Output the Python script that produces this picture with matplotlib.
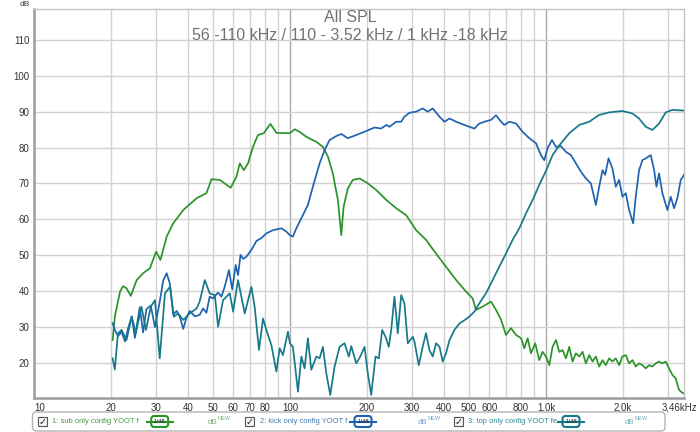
import matplotlib
matplotlib.use("Agg")
import matplotlib.pyplot as plt
import matplotlib.transforms as mtransforms
from matplotlib.patches import FancyBboxPatch, Rectangle
from matplotlib.lines import Line2D
from matplotlib.ticker import NullLocator

plt.rcParams['font.family'] = ['Liberation Sans', 'DejaVu Sans']

# ---------------- data ----------------
sub_f = [20.3, 20.7, 21.7, 22.3, 23.0, 23.9, 25.2, 26.7, 28.4, 30.0, 31.2, 33.0, 35.0, 38.3, 43.2, 47.2,
         49.4, 53.2, 58.7, 61.8, 63.7, 66.0, 68.6, 71.7, 75.0, 79.0, 83.9, 88.5, 100, 104.3, 109, 115.9,
         121.2, 126.8, 134.5, 140.7, 147.1, 153.9, 158.7, 162, 168.3, 176, 187, 200, 217, 238, 260, 284,
         293, 311, 340, 372, 407, 446, 487, 517, 533, 566, 610, 638, 668, 698, 730, 764, 800, 823, 848,
         874, 908, 941, 970, 1000, 1030, 1061, 1094, 1127, 1161, 1197, 1233, 1270, 1309, 1349, 1389,
         1432, 1475, 1520, 1566, 1614, 1662, 1713, 1765, 1818, 1874, 1931, 1989, 2050, 2112, 2176, 2242,
         2310, 2380, 2453, 2527, 2604, 2683, 2765, 2849, 2936, 3024, 3116, 3211, 3309, 3409, 3460]
sub_db = [26.4, 32.9, 39.9, 41.4, 40.8, 38.7, 43.1, 45.0, 46.4, 51.0, 48.7, 55.2, 58.9, 62.6, 65.9, 67.3,
          71.2, 71.0, 68.8, 71.9, 75.6, 73.7, 75.6, 80.2, 83.5, 84.0, 86.6, 84.1, 84.0, 85.1, 84.4, 83.0,
          82.3, 81.6, 80.2, 77.5, 72.8, 65.4, 55.6, 63.5, 68.6, 71.0, 71.4, 70.2, 68.2, 65.4, 63.1, 61.2,
          59.8, 57.0, 54.3, 50.5, 46.8, 43.1, 39.9, 38.0, 34.8, 35.7, 37.1, 34.8, 32.0, 27.8, 29.7, 27.8,
          26.9, 24.1, 26.9, 22.7, 25.5, 20.8, 23.1, 21.8, 19.4, 24.5, 26.4, 23.1, 23.6, 21.3, 24.5, 20.4,
          22.7, 21.8, 23.1, 19.9, 22.2, 20.4, 21.8, 19.0, 20.8, 19.4, 21.3, 20.4, 21.3, 19.4, 21.8, 22.2,
          19.9, 20.8, 19.0, 19.9, 19.4, 18.5, 19.4, 19.0, 19.9, 20.4, 19.9, 20.4, 18.5, 16.7, 15.7, 12.5,
          11.7, 11.5]

kick_f = [20.3, 20.7, 21.3, 22.0, 22.7, 23.3, 24.1, 24.8, 25.9, 26.7, 27.5, 28.6, 29.7, 31.0, 32.0, 33.0,
          34.0, 35.0, 36.1, 37.1, 38.3, 39.4, 40.6, 42.5, 44.4, 45.8, 47.2, 48.6, 50, 52.4, 54.0, 55.6,
          57.8, 59.5, 61.4, 62.7, 64.1, 65.7, 67.6, 70.7, 74.0, 77.4, 80.9, 85.8, 92.6, 96.8, 100, 102.7,
          105.9, 112.4, 117.5, 122.9, 130.6, 136.6, 142.8, 151.7, 158.7, 168.3, 181.5, 200, 214, 227, 238,
          245, 260, 272, 280, 293, 311, 330, 345, 361, 384, 401, 420, 446, 480, 525, 549, 575, 610, 638,
          668, 688, 719, 764, 810, 861, 914, 956, 985, 1014, 1055, 1094, 1144, 1197, 1252, 1309, 1369,
          1432, 1498, 1566, 1614, 1662, 1703, 1755, 1818, 1874, 1931, 1989, 2050, 2112, 2190, 2242, 2310,
          2380, 2453, 2567, 2645, 2700, 2765, 2849, 2980, 3072, 3165, 3260, 3361, 3460]
kick_db = [31.1, 29.2, 27.5, 28.7, 26.0, 29.5, 33.0, 27.0, 35.5, 28.5, 35.0, 36.0, 30.0, 37.0, 43.0, 45.0,
           42.0, 33.5, 34.5, 33.0, 29.5, 32.5, 34.5, 33.0, 33.4, 35.2, 34.0, 38.5, 38.0, 39.6, 38.5, 41.2,
           45.9, 40.5, 47.3, 44.5, 50.1, 49.0, 49.6, 51.5, 54.0, 54.8, 56.1, 57.0, 57.5, 56.6, 55.6, 55.2,
           57.5, 61.2, 64.0, 69.1, 75.6, 79.3, 82.1, 83.2, 83.8, 82.6, 83.5, 84.7, 85.6, 85.3, 86.3,
           85.8, 87.2, 87.2, 88.6, 89.7, 90.0, 90.9, 90.0, 90.9, 88.6, 87.2, 88.1, 87.2, 86.3, 85.3, 86.7,
           87.2, 87.7, 89.0, 87.2, 86.3, 87.2, 86.7, 84.4, 82.6, 81.2, 77.9, 76.5, 79.8, 82.1, 80.2, 80.4,
           78.8, 77.9, 75.6, 73.3, 71.4, 70.0, 64.0, 69.1, 73.7, 72.4, 77.0, 74.2, 69.1, 71.0, 66.3, 67.3,
           62.6, 58.9, 66.3, 73.7, 76.5, 77.0, 77.9, 73.7, 69.1, 72.8, 67.3, 62.6, 66.3, 63.1, 65.9, 71.0,
           72.4]

top_f = [20.3, 20.7, 21.3, 22.0, 23.0, 24.1, 25.0, 26.3, 27.4, 28.6, 29.7, 31.0, 32.5, 34.0, 35.2, 36.6,
         38.3, 40.6, 43.2, 44.4, 46.5, 48.6, 50.9, 52.4, 54.8, 58.2, 60, 62.7, 64.6, 66.6, 70.7, 72.8,
         75.7, 78.5, 80.9, 84.6, 88.5, 91.2, 93.9, 98.2, 100, 102.7, 107.5, 110.8, 114.1, 117.5, 121.2,
         126.8, 130.6, 134.5, 138.7, 143.7, 149.4, 156.3, 163.4, 169.9, 173.6, 181.5, 188.2, 195.6, 201.5,
         207.7, 215.9, 222.4, 229.3, 236.2, 243.3, 248.6, 256, 263.7, 272, 280, 288.5, 301.8, 306.4, 318.5,
         330, 340, 350.6, 361, 372, 384, 395, 407, 420, 439, 459, 480, 502, 525, 549, 583, 619, 657, 698,
         741, 787, 836, 887, 941, 1000, 1061, 1144, 1233, 1349, 1475, 1614, 1765, 1989, 2176, 2310, 2453,
         2604, 2765, 2936, 3116, 3460]
top_db = [21.3, 18.2, 28.3, 29.2, 26.4, 32.9, 28.3, 35.7, 29.2, 35.7, 37.5, 21.3, 39.4, 41.2, 32.9, 33.8,
          32.0, 33.8, 35.2, 37.1, 43.1, 39.4, 38.9, 30.1, 37.5, 39.4, 34.3, 43.1, 38.5, 33.8, 41.2, 35.7,
          23.6, 32.4, 29.2, 25.0, 17.6, 24.1, 22.2, 28.7, 25.5, 24.5, 12.0, 21.8, 18.5, 26.9, 18.1,
          21.8, 21.3, 24.5, 17.1, 11.1, 19.0, 24.5, 25.5, 21.8, 24.7, 19.9, 21.8, 24.5, 17.1,
          11.1, 21.8, 21.3, 29.2, 27.3, 24.5, 29.2, 38.5, 28.3, 38.9, 36.6, 25.5, 27.3, 26.0, 19.4,
          24.5, 28.3, 23.6, 21.8, 25.5, 24.5, 20.4, 22.7, 26.4, 29.2, 31.0, 31.9, 32.9, 34.3, 36.6, 39.4,
          43.1, 46.8, 50.5, 54.3, 57.5, 61.7, 65.4, 69.6, 73.5, 77.9, 81.2, 84.0, 86.3, 87.2, 89.1, 89.8,
          90.2, 89.5, 88.1, 85.8, 84.9, 86.7, 89.8, 90.5, 90.3]

x_tick_vals = [10, 20, 30, 40, 50, 60, 70, 80, 100, 200, 300, 400, 500, 600, 800, 1000, 2000, 3460]
x_tick_text = ["10", "20", "30", "40", "50", "60", "70", "80", "100", "200", "300", "400", "500",
               "600", "800", "1,0k", "2,0k", "3,46kHz"]
x_grid_vals = [20, 30, 40, 50, 60, 70, 80, 90, 100, 200, 300, 400, 500, 600, 700, 800, 900, 1000,
               2000, 3000]
y_tick_vals = [20, 30, 40, 50, 60, 70, 80, 90, 100, 110]

title_1 = "All SPL"
title_2 = "56 -110 kHz / 110 - 3.52 kHz / 1 kHz -18 kHz"
legend_names = ["1: sub only config YOOT f", "2: kick only config YOOT f", "3: top only config YOOT fe"]

c_sub = "#2a942a"
c_kick = "#1f63b0"
c_top = "#16798a"

# ---------------- figure ----------------
W, H = 700, 432
fig = plt.figure(figsize=(W / 100, H / 100), dpi=100)
ax = fig.add_axes([33.9 / W, 34 / H, (684 - 33.9) / W, (423 - 34) / H])
ax.set_xscale('log')
ax.set_xlim(10, 3460)
ax.set_ylim(10.25, 118.6)
ax.xaxis.set_minor_locator(NullLocator())

for g in x_grid_vals:
    col = '#a9a9a9' if g in (100, 1000) else '#d2d2d2'
    ax.axvline(g, color=col, lw=1.0, zorder=1)
for g in y_tick_vals:
    ax.axhline(g, color='#d2d2d2', lw=1.0, zorder=1)

ax.plot(sub_f, sub_db, color=c_sub, lw=1.25, zorder=3)
ax.plot(kick_f, kick_db, color=c_kick, lw=1.25, zorder=3)
ax.plot(top_f, top_db, color=c_top, lw=1.25, zorder=4)

ax.set_xticks(x_tick_vals)
ax.set_xticklabels(x_tick_text)
ax.set_yticks(y_tick_vals)
ax.set_yticklabels([str(v) for v in y_tick_vals])
ax.tick_params(axis='both', length=0, labelsize=7, colors='#333333')
ax.tick_params(axis='x', pad=3.5)
ax.tick_params(axis='y', pad=3)
xl = ax.get_xticklabels()
xl[0].set_ha('left')
xl[-1].set_transform(xl[-1].get_transform() + mtransforms.ScaledTranslation(-5 / 100, 0, fig.dpi_scale_trans))

for s in ('left', 'bottom'):
    ax.spines[s].set_color('#9c9c9c')
    ax.spines[s].set_linewidth(1.8)
for s in ('top', 'right'):
    ax.spines[s].set_color('#c4c4c4')
    ax.spines[s].set_linewidth(1.0)

# titles
fig.text(0.5, 1 - 18 / H, title_1, ha='center', va='center', fontsize=11.5, color='#727272')
fig.text(0.5, 1 - 35 / H, title_2, ha='center', va='center', fontsize=11.5, color='#727272')
fig.text(24.5 / W, 1 - 4.5 / H, "dB", ha='center', va='center', fontsize=6, color='#333333')

# ---------------- legend bar (pixel coords, top-left origin) ----------------
tp = mtransforms.Affine2D().scale(1 / W, -1 / H).translate(0, 1) + fig.transFigure

fig.patches.append(FancyBboxPatch((32.5, 412), 632.5, 19, boxstyle="round,pad=0,rounding_size=4",
                                  transform=tp, facecolor='white', edgecolor='#b4b4b4', lw=1.0))

items = [
    dict(cb=37.5, tx=52, badge=159.7, db=208, col=c_sub, tcol='#3f9a3f', dcol='#6fb86f'),
    dict(cb=245, tx=259.5, badge=363, db=418, col=c_kick, tcol='#4679b2', dcol='#7fa3cf'),
    dict(cb=454, tx=468, badge=571, db=625, col=c_top, tcol='#2b8794', dcol='#6fb0bb'),
]
yc = 421.5
for it, name in zip(items, legend_names):
    fig.patches.append(Rectangle((it['cb'], yc - 4.5), 9, 9, transform=tp, facecolor='#f6f6f6',
                                 edgecolor='#555555', lw=0.8))
    fig.text(*tp.transform((it['cb'] + 4.7, yc + 0.3)), "\u2713", transform=None, ha='center',
             va='center', fontsize=7, fontweight='bold', color='#222222', family=['DejaVu Sans'])
    fig.text(*tp.transform((it['tx'], yc)), name, transform=None, ha='left', va='center',
             fontsize=5.4, color=it['tcol'])
    bx = it['badge']
    fig.lines.append(Line2D([bx - 13, bx + 13], [yc, yc], transform=tp, color=it['col'], lw=1.5))
    fig.patches.append(FancyBboxPatch((bx - 8.5, yc - 5.5), 17, 11, boxstyle="round,pad=0,rounding_size=3",
                                      transform=tp, facecolor='white', edgecolor=it['col'], lw=1.5))
    fig.text(*tp.transform((bx, yc)), "1/48", transform=None, ha='center', va='center',
             fontsize=4.3, color='#222222')
    fig.text(*tp.transform((it['db'], yc + 0.5)), "dB", transform=None, ha='left', va='center',
             fontsize=5.7, color=it['dcol'])
    fig.text(*tp.transform((it['db'] + 9.5, yc - 2.5)), "NEW", transform=None, ha='left', va='center',
             fontsize=4, color=it['dcol'])

fig.savefig("out.png", dpi=100)
